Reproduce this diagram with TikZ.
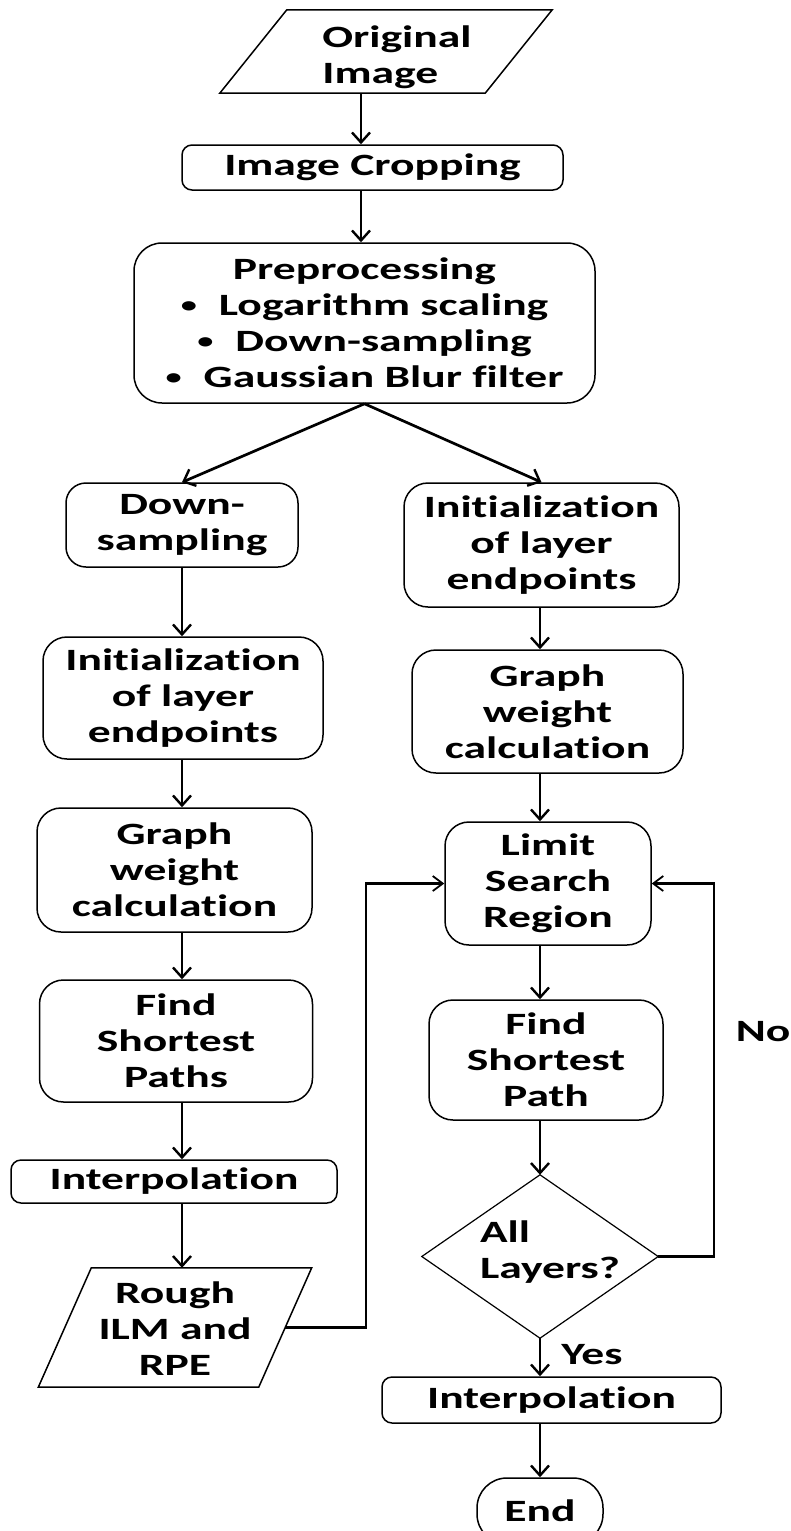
\documentclass[tikz,border=0pt]{standalone}
\usepackage{fontspec}
\newfontfamily\flowfont{Carlito}[FakeStretch=1.47, Ligatures=NoCommon]
\usetikzlibrary{arrows.meta,calc}

\newcommand{\itembullet}{\raisebox{3.5pt}{\fontsize{22}{22}\selectfont •}\hspace{22pt}}

\tikzset{
  x=1pt, y=-1pt,
  txt/.style={font=\flowfont\bfseries\fontsize{31}{36}\selectfont, align=center, inner sep=0pt},
  box/.style={txt, draw, line width=1.5pt, rounded corners=24pt},
  flat/.style={box, rounded corners=10pt},
  edge/.style={line width=1.5pt, line join=miter},
  arr/.style={line width=2.7pt, -{Straight Barb[length=10pt,width=18pt,line width=2.4pt]}},
  looparr/.style={line width=2.2pt, -{Straight Barb[length=10pt,width=15pt,line width=1.8pt]}},
}

\begin{document}
\begin{tikzpicture}
  \fill[white] (0,0) rectangle (791,1531);
  \useasboundingbox (0,0) rectangle (791,1531);

  % guide columns for the vertical connectors
  \coordinate (spine) at (361,0);
  \coordinate (lcol) at (182,0);
  \coordinate (rcol) at (540,0);
  \coordinate (loopL) at (366,0);
  \coordinate (loopR) at (714,0);

  % input parallelogram
  \node[inner sep=0pt, minimum width=265pt, minimum height=83pt] (orig) at (386,51.5) {};
  \draw[edge] ($(orig.south west)+(-33.5,0)$) -- ($(orig.south east)+(-33.5,0)$)
              -- ($(orig.north east)+(33.5,0)$) -- ($(orig.north west)+(33.5,0)$) -- cycle;
  \node[txt, align=left] (origtxt) at (397,57) {Original\\Image};

  \node[flat, minimum width=381pt, minimum height=45pt] (crop) at (372.5,167.5) {Image Cropping};

  \node[box, rounded corners=28pt, minimum width=461pt, minimum height=160pt] (pre) at (364.5,323)
    {Preprocessing\\
     \itembullet Logarithm scaling\\
     \itembullet Down-sampling\\
     \itembullet Gaussian Blur filter};

  % left branch
  \node[box, rounded corners=20pt, minimum width=232pt, minimum height=84pt] (lds) at (182,525) {Down-\\sampling};
  \node[box, minimum width=280pt, minimum height=122pt] (linit) at (183,698) {Initialization\\of layer\\endpoints};
  \node[box, minimum width=275pt, minimum height=124pt] (lgw) at (174.5,870) {Graph\\weight\\calculation};
  \node[box, minimum width=273pt, minimum height=122pt] (lfsp) at (176,1041) {Find\\Shortest\\Paths};
  \node[flat, minimum width=326pt, minimum height=43pt] (linterp) at (174,1181.5) {Interpolation};

  \node[inner sep=0pt, minimum width=220pt, minimum height=119pt] (rough) at (175,1327.5) {};
  \draw[edge] ($(rough.south west)+(-26.5,0)$) -- ($(rough.south east)+(-26.5,0)$)
              -- ($(rough.north east)+(26.5,0)$) -- ($(rough.north west)+(26.5,0)$) -- cycle;
  \node[txt] (roughtxt) at (175,1329) {Rough\\ILM and\\RPE};

  % right branch
  \node[box, minimum width=275pt, minimum height=124pt] (rinit) at (541.5,545) {Initialization\\of layer\\endpoints};
  \node[box, minimum width=271pt, minimum height=123pt] (rgw) at (547.5,711.5) {Graph\\weight\\calculation};
  \node[box, minimum width=206pt, minimum height=123pt] (lsr) at (548,883.5) {Limit\\Search\\Region};
  \node[box, minimum width=234pt, minimum height=120pt] (rfsp) at (546,1060) {Find\\Shortest\\Path};

  \node[inner sep=0pt, minimum width=236pt, minimum height=163pt] (chk) at (540,1256.5) {};
  \draw[line width=1.2pt] (chk.north) -- (chk.east) -- (chk.south) -- (chk.west) -- cycle;
  \node[txt, align=left] (chktxt) at (550,1252) {All\\Layers?};

  \node[flat, minimum width=339pt, minimum height=46pt] (rinterp) at (551.5,1400) {Interpolation};
  \node[box, rounded corners=30pt, minimum width=126pt, minimum height=66pt] (fin) at (540,1511) {End};

  \node[txt] (nolab) at (763,1032) {No};
  \node[txt] (yeslab) at (592,1355) {Yes};

  % connectors
  \draw[arr] (orig.south -| spine) -- (crop.north -| spine);
  \draw[arr] (crop.south -| spine) -- (pre.north -| spine);
  \draw[arr] (pre.south) -- (lds.north);
  \draw[arr] (pre.south) -- (rinit.north);

  \draw[arr] (lds.south -| lcol) -- (linit.north -| lcol);
  \draw[arr] (linit.south -| lcol) -- (lgw.north -| lcol);
  \draw[arr] (lgw.south -| lcol) -- (lfsp.north -| lcol);
  \draw[arr] (lfsp.south -| lcol) -- (linterp.north -| lcol);
  \draw[arr] (linterp.south -| lcol) -- (rough.north -| lcol);

  \draw[arr] (rinit.south -| rcol) -- (rgw.north -| rcol);
  \draw[arr] (rgw.south -| rcol) -- (lsr.north -| rcol);
  \draw[arr] (lsr.south -| rcol) -- (rfsp.north -| rcol);
  \draw[arr] (rfsp.south -| rcol) -- (chk.north);
  \draw[arr] (chk.south) -- (rinterp.north -| chk);
  \draw[arr] (rinterp.south -| chk) -- (fin.north);

  \draw[looparr] (rough.east) -- (rough.east -| loopL) -- (lsr.west -| loopL) -- (lsr.west);
  \draw[looparr] (chk.east) -- (chk.east -| loopR) -- (lsr.east -| loopR) -- (lsr.east);
\end{tikzpicture}
\end{document}
